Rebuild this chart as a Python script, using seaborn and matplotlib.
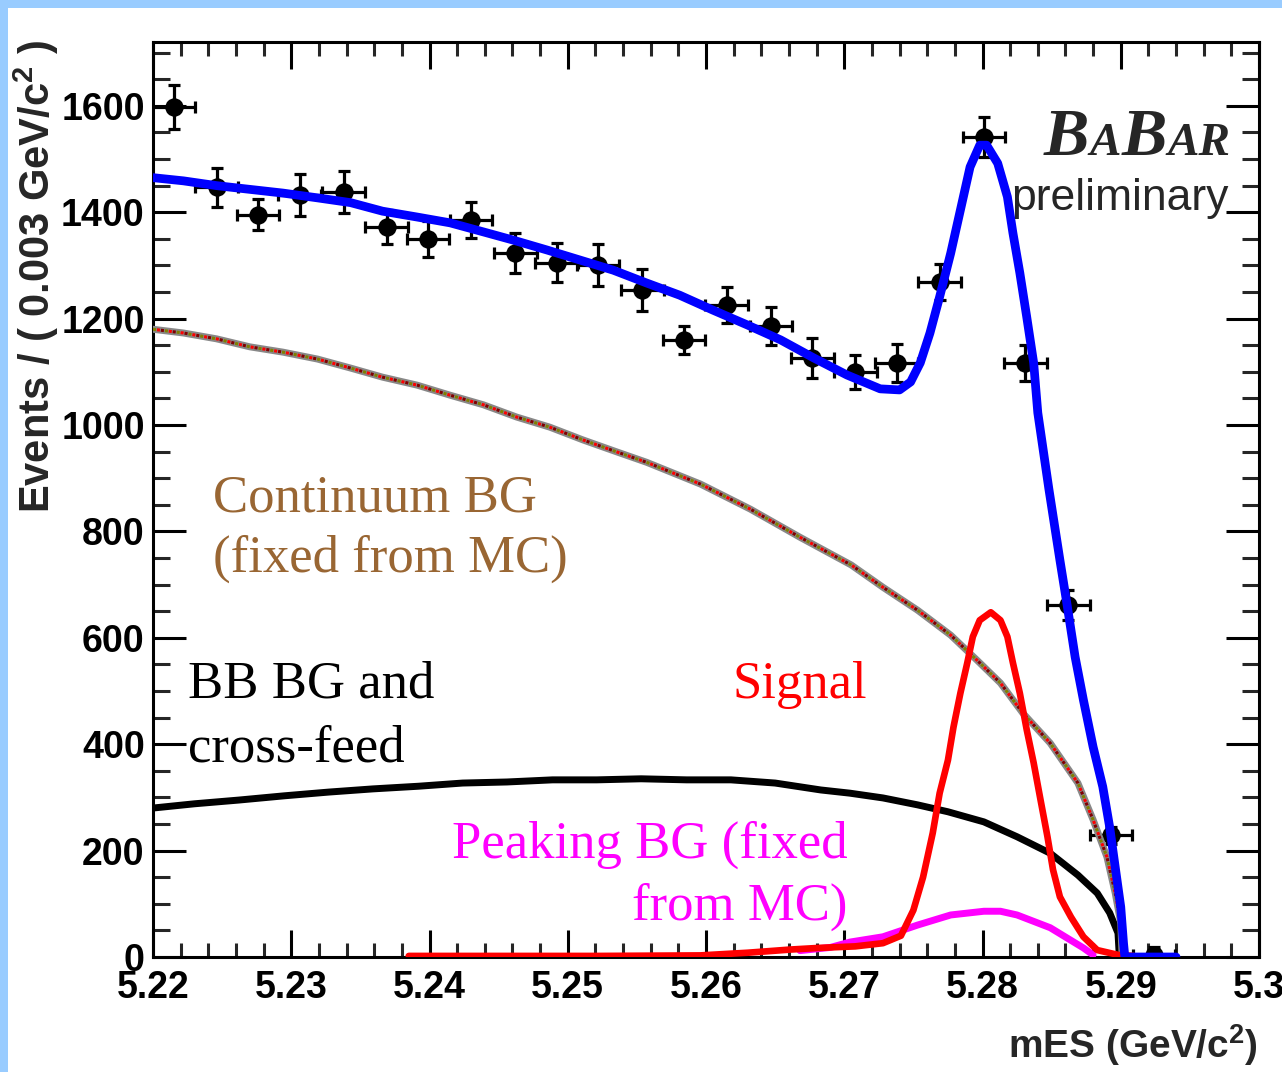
import matplotlib
matplotlib.use("Agg")
import numpy as np
import pandas as pd
import seaborn as sns
import matplotlib.pyplot as plt
from matplotlib.ticker import MultipleLocator, FuncFormatter
from matplotlib.patches import Rectangle
from matplotlib import font_manager

# ---- measured data (mES bins) ----
data_x = [5.2215, 5.2246, 5.2276, 5.2306, 5.2338, 5.2369, 5.2399, 5.2430,
          5.2462, 5.2492, 5.2522, 5.2554, 5.2584, 5.2615, 5.2647, 5.2677,
          5.2708, 5.2738, 5.2769, 5.2801, 5.2831, 5.2862, 5.2893, 5.2924]
data_y = [1598, 1447, 1395, 1432, 1438, 1372, 1350, 1385,
          1323, 1305, 1301, 1254, 1160, 1226, 1186, 1126,
          1100, 1117, 1269, 1541, 1117, 662, 229, 3]
data_err = [41, 37, 29, 39, 39, 32, 34, 34,
            38, 37, 40, 40, 26, 34, 35, 38,
            32, 36, 34, 38, 34, 28, 16, 15]
bin_half = 0.00154

# ---- total fit ----
total_x = [5.2200, 5.2222, 5.2246, 5.2270, 5.2294, 5.2319, 5.2343, 5.2366, 5.2391, 5.2415,
           5.2439, 5.2460, 5.2485, 5.2509, 5.2533, 5.2557, 5.2581, 5.2605, 5.2630, 5.2654,
           5.2678, 5.2702, 5.2726, 5.2740, 5.2748, 5.2755, 5.2762, 5.2769, 5.2777, 5.2784,
           5.2791, 5.2798, 5.2803, 5.2811, 5.2818, 5.2822, 5.2827, 5.2832, 5.2837, 5.2840,
           5.2848, 5.2856, 5.2861, 5.2867, 5.2873, 5.2880, 5.2887, 5.2892, 5.2896, 5.2900,
           5.2902, 5.2903, 5.2940]
total_y = [1465, 1459, 1450, 1443, 1436, 1427, 1418, 1402, 1391, 1380,
           1363, 1348, 1329, 1310, 1291, 1267, 1244, 1216, 1188, 1160,
           1126, 1094, 1068, 1066, 1081, 1117, 1173, 1241, 1323, 1404,
           1485, 1526, 1526, 1492, 1429, 1361, 1286, 1203, 1117, 1023,
           880, 746, 665, 564, 483, 395, 320, 244, 169, 94,
           26, 0, 0]

# ---- continuum background ----
cont_x = [5.2200, 5.2222, 5.2246, 5.2270, 5.2294, 5.2319, 5.2343, 5.2366, 5.2391, 5.2415,
          5.2439, 5.2463, 5.2487, 5.2511, 5.2536, 5.2557, 5.2596, 5.2632, 5.2668, 5.2705,
          5.2728, 5.2753, 5.2777, 5.2796, 5.2813, 5.2829, 5.2849, 5.2869, 5.2880, 5.2890,
          5.2896, 5.2900, 5.2901]
cont_y = [1180, 1173, 1162, 1147, 1137, 1124, 1107, 1090, 1075, 1056,
          1038, 1015, 996, 972, 949, 930, 889, 842, 789, 737,
          695, 652, 605, 558, 515, 459, 402, 327, 258, 188,
          120, 64, 0]

# ---- BB background and cross-feed ----
bb_x = [5.2200, 5.2230, 5.2262, 5.2295, 5.2327, 5.2359, 5.2392, 5.2424, 5.2456, 5.2489,
        5.2521, 5.2553, 5.2586, 5.2618, 5.2650, 5.2683, 5.2704, 5.2728, 5.2753, 5.2775,
        5.2801, 5.2825, 5.2849, 5.2869, 5.2883, 5.2892, 5.2898, 5.2899]
bb_y = [280, 288, 295, 303, 310, 316, 321, 327, 329, 333,
        333, 335, 333, 333, 327, 314, 308, 299, 286, 273,
        254, 226, 195, 154, 120, 83, 45, 0]

# ---- signal ----
sig_x = [5.2385, 5.2451, 5.2523, 5.2596, 5.2630, 5.2661, 5.2681, 5.2708, 5.2728, 5.2741,
         5.2750, 5.2757, 5.2764, 5.2769, 5.2775, 5.2779, 5.2784, 5.2789, 5.2793, 5.2798,
         5.2806, 5.2813, 5.2818, 5.2822, 5.2827, 5.2832, 5.2837, 5.2842, 5.2847, 5.2851,
         5.2856, 5.2864, 5.2873, 5.2883, 5.2898, 5.2909]
sig_y = [2, 2, 2, 3, 8, 14, 17, 20, 26, 40,
         88, 150, 233, 308, 370, 432, 496, 553, 602, 633,
         648, 633, 602, 553, 496, 427, 365, 295, 226, 164,
         113, 75, 38, 13, 4, 2]

# ---- peaking background ----
peak_x = [5.2668, 5.2690, 5.2704, 5.2728, 5.2753, 5.2777, 5.2801, 5.2813, 5.2825,
          5.2849, 5.2861, 5.2873, 5.2880]
peak_y = [12, 18, 28, 38, 60, 79, 86, 86, 79, 55, 36, 17, 4]

x_ticks = [5.22, 5.23, 5.24, 5.25, 5.26, 5.27, 5.28, 5.29, 5.30]
y_ticks = [0, 200, 400, 600, 800, 1000, 1200, 1400, 1600]

# ---- style ----
sns.set_theme(style="ticks")
names = {f.name for f in font_manager.fontManager.ttflist}
narrow = "Liberation Sans Narrow" in names
SANS = ["Liberation Sans Narrow", "Liberation Sans", "DejaVu Sans"] if narrow else ["Liberation Sans", "DejaVu Sans"]
plt.rcParams["font.family"] = SANS
plt.rcParams["font.weight"] = "bold"
plt.rcParams["mathtext.default"] = "regular"
tick_fs = 33 if narrow else 27
SERIF = ["Liberation Serif", "DejaVu Serif"]

W, H = 1282, 1072
fig = plt.figure(figsize=(W / 100, H / 100), dpi=100, facecolor="white")


def fx(px):
    return px / W


def fy(py):
    return 1 - py / H


# light-blue frame strips
fig.patches.append(Rectangle((0, fy(8)), 1, 8 / H, transform=fig.transFigure,
                             facecolor="#99CCFF", edgecolor="none", zorder=0))
fig.patches.append(Rectangle((0, 0), 8 / W, 1, transform=fig.transFigure,
                             facecolor="#99CCFF", edgecolor="none", zorder=0))

ax = fig.add_axes([fx(153), fy(957), (1259 - 153) / W, (957 - 42) / H])
ax.set_facecolor("white")

# data points with error bars
ax.errorbar(data_x, data_y, xerr=bin_half, yerr=data_err, fmt="none",
            ecolor="black", elinewidth=2.3, capsize=4.5, capthick=2.3, zorder=3)
sns.scatterplot(x=data_x, y=data_y, ax=ax, color="black", s=175, marker="o",
                edgecolor="black", linewidth=0, zorder=4, legend=False)

# fit components
sns.lineplot(x=peak_x, y=peak_y, ax=ax, color="#FF00FF", linewidth=5.0,
             sort=False, estimator=None, zorder=5)
sns.lineplot(x=bb_x, y=bb_y, ax=ax, color="black", linewidth=5.0,
             sort=False, estimator=None, zorder=5)
sns.lineplot(x=cont_x, y=cont_y, ax=ax, color="#888888", linewidth=5.0,
             sort=False, estimator=None, zorder=5)
for col, off in [("#808000", 0.0), ("#800000", 1.3), ("#FF0000", 2.6)]:
    ax.plot(cont_x, cont_y, color=col, linewidth=2.2,
            linestyle=(off, (1.0, 2.9)), zorder=5.5)
sns.lineplot(x=sig_x, y=sig_y, ax=ax, color="#FF0000", linewidth=4.8,
             sort=False, estimator=None, zorder=6)
sns.lineplot(x=total_x, y=total_y, ax=ax, color="#0000FF", linewidth=6.3,
             sort=False, estimator=None, zorder=7)

# axes
ax.set_xlim(5.22, 5.30)
ax.set_ylim(0, 1720)
ax.set_xticks(x_ticks)
ax.set_yticks(y_ticks)
ax.xaxis.set_minor_locator(MultipleLocator(0.002))
ax.yaxis.set_minor_locator(MultipleLocator(50))
ax.xaxis.set_major_formatter(FuncFormatter(lambda v, p: f"{v:.2f}".rstrip("0")))
ax.yaxis.set_major_formatter(FuncFormatter(lambda v, p: f"{int(round(v))}"))
ax.set_xlabel("")
ax.set_ylabel("")
ax.grid(False)
for s in ax.spines.values():
    s.set_linewidth(2.2)
    s.set_color("black")
    s.set_visible(True)
ax.tick_params(axis="x", which="major", length=19.5, width=2.2, direction="in",
               top=True, bottom=True, pad=9, labelsize=tick_fs, colors="black")
ax.tick_params(axis="x", which="minor", length=10, width=2.2, direction="in",
               top=True, bottom=True)
ax.tick_params(axis="y", which="major", length=24, width=2.2, direction="in",
               left=True, right=True, pad=6, labelsize=tick_fs, colors="black")
ax.tick_params(axis="y", which="minor", length=12.5, width=2.2, direction="in",
               left=True, right=True)

# axis titles
fig.text(fx(1258), fy(1058), "mES (GeV/c$^{2}$)", ha="right", va="baseline",
         fontsize=tick_fs + 1, fontweight="bold")
fig.text(fx(36), fy(40), "Events / ( 0.003 GeV/c$^{2}$ )", rotation=90,
         ha="center", va="top", fontsize=30, fontweight="bold")

# component labels
lab_fs = 38
ax.text(fx(213), fy(511), "Continuum BG", transform=fig.transFigure, color="#996633",
        fontsize=lab_fs, family=SERIF, fontweight="normal", va="baseline", zorder=8)
ax.text(fx(213), fy(572), "(fixed from MC)", transform=fig.transFigure, color="#996633",
        fontsize=lab_fs, family=SERIF, fontweight="normal", va="baseline", zorder=8)
ax.text(fx(188), fy(698), "BB BG and", transform=fig.transFigure, color="black",
        fontsize=lab_fs, family=SERIF, fontweight="normal", va="baseline", zorder=8)
ax.text(fx(188), fy(761), "cross-feed", transform=fig.transFigure, color="black",
        fontsize=lab_fs, family=SERIF, fontweight="normal", va="baseline", zorder=8)
ax.text(fx(733), fy(698), "Signal", transform=fig.transFigure, color="#FF0000",
        fontsize=lab_fs, family=SERIF, fontweight="normal", va="baseline", zorder=8)
ax.text(fx(848), fy(858), "Peaking BG (fixed", transform=fig.transFigure, color="#FF00FF",
        fontsize=lab_fs, family=SERIF, fontweight="normal", va="baseline", ha="right", zorder=8)
ax.text(fx(848), fy(920), "from MC)", transform=fig.transFigure, color="#FF00FF",
        fontsize=lab_fs, family=SERIF, fontweight="normal", va="baseline", ha="right", zorder=8)

# experiment logo: large/small capitals set piece by piece on a common baseline
pieces = [("B", 49), ("A", 34), ("B", 49), ("AR", 34)]
renderer = fig.canvas.get_renderer()
cur_x = 1044
for txt, fs in pieces:
    t = fig.text(fx(cur_x), fy(155), txt, fontsize=fs, family=SERIF,
                 fontweight="bold", fontstyle="italic", va="baseline", ha="left")
    bb = t.get_window_extent(renderer=renderer)
    cur_x += bb.width + 0.5

fig.text(fx(1228), fy(210), "preliminary", ha="right", va="baseline",
         fontsize=38 if narrow else 32, fontweight="normal")

fig.savefig("out.png", dpi=100, facecolor="white")
